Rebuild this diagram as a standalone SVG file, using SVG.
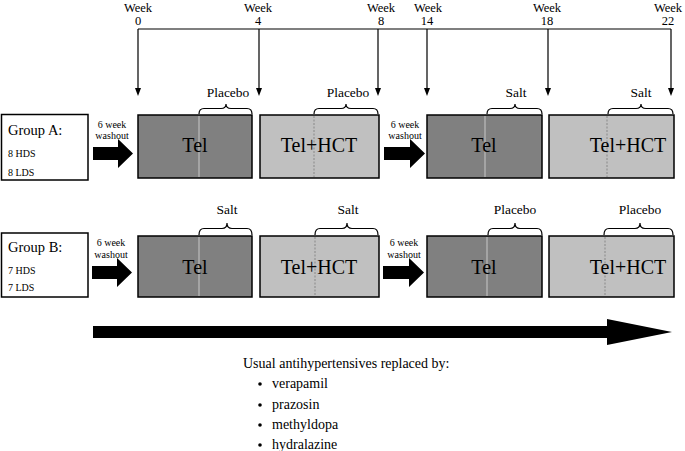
<svg xmlns="http://www.w3.org/2000/svg" width="685" height="451" viewBox="0 0 685 451">
<style>
text{font-family:"Liberation Serif","Times New Roman",serif;fill:#000}
.wk{font-size:12.5px;text-anchor:middle}
.lbl{font-size:13.5px;text-anchor:middle}
.drug{font-size:20px;text-anchor:middle}
.wo{font-size:10px;text-anchor:middle}
.grp{font-size:14.5px}
.sub{font-size:10px}
.note{font-size:14px}
.tel{fill:#808080;stroke:#000;stroke-width:1.5}
.hct{fill:#c0c0c0;stroke:#000;stroke-width:1.5}
.gbox{fill:#fff;stroke:#000;stroke-width:1.5}
.lt{stroke:#c8c8c8;stroke-width:1}
.dash{stroke:#888;stroke-width:1;stroke-dasharray:2,1.5}
.brace{fill:none;stroke:#000;stroke-width:1.2}
.ln{stroke:#000;stroke-width:1.2;fill:none}
.blk{fill:#000}
</style>

<g id="timeline">
<text class="wk" x="138" y="12">Week</text><text class="wk" x="138" y="25">0</text>
<text class="wk" x="258" y="12">Week</text><text class="wk" x="258" y="25">4</text>
<text class="wk" x="381" y="12">Week</text><text class="wk" x="381" y="25">8</text>
<text class="wk" x="428" y="12">Week</text><text class="wk" x="427" y="25">14</text>
<text class="wk" x="547" y="12">Week</text><text class="wk" x="547" y="25">18</text>
<text class="wk" x="668" y="12">Week</text><text class="wk" x="668" y="25">22</text>
</g>

<g id="connectors">
<path class="ln" d="M138,29 H671"/>
<path class="ln" d="M138,29 V89 M259,29 V89 M378,29 V89 M427,29 V89 M548,29 V89 M671,29 V89"/>
<polygon class="blk" points="135,88 141,88 138,96"/>
<polygon class="blk" points="256,88 262,88 259,96"/>
<polygon class="blk" points="375,88 381,88 378,96"/>
<polygon class="blk" points="424,88 430,88 427,96"/>
<polygon class="blk" points="545,88 551,88 548,96"/>
<polygon class="blk" points="668,88 674,88 671,96"/>
<polygon class="blk" points="93,147 118,147 118,139 133,153.5 118,168 118,160 93,160"/>
<polygon class="blk" points="384,147 410,147 410,139 425,153.5 410,168 410,160 384,160"/>
<polygon class="blk" points="92,266 117,266 117,258 132,272.5 117,287 117,279 92,279"/>
<polygon class="blk" points="383,266 409,266 409,258 424,272.5 409,287 409,279 383,279"/>
<polygon class="blk" points="93,326 607,326 607,319 672,332 607,345 607,338 93,338"/>
</g>

<g id="groupA">
<rect class="gbox" x="1.5" y="114.5" width="86.5" height="65.5"/>
<text class="grp" x="8" y="135">Group A:</text>
<text class="sub" x="8" y="157">8 HDS</text>
<text class="sub" x="8" y="176">8 LDS</text>
</g>
<g id="washoutA1"><text class="wo" x="112" y="128">6 week</text><text class="wo" x="112" y="139">washout</text></g>
<g id="A1">
<rect class="tel" x="138" y="115" width="114" height="63"/>
<line class="lt" x1="199" y1="116" x2="199" y2="177"/>
<text class="drug" x="195" y="152">Tel</text>
<path class="brace" d="M199,114 Q199,108.5 204,108.5 H221 Q226,108.5 226,104 Q226,108.5 231,108.5 H247 Q252,108.5 252,114"/>
<text class="lbl" x="228" y="97">Placebo</text>
</g>
<g id="A2">
<rect class="hct" x="260" y="115" width="119" height="63"/>
<line class="dash" x1="314" y1="116" x2="314" y2="177"/>
<text class="drug" x="319" y="152">Tel+HCT</text>
<path class="brace" d="M314,114 Q314,108.5 319,108.5 H341 Q346,108.5 346,104 Q346,108.5 351,108.5 H373 Q378,108.5 378,114"/>
<text class="lbl" x="348" y="97">Placebo</text>
</g>
<g id="washoutA2"><text class="wo" x="405" y="128">6 week</text><text class="wo" x="405" y="139">washout</text></g>
<g id="A3">
<rect class="tel" x="427" y="115" width="115" height="63"/>
<line class="lt" x1="485" y1="116" x2="485" y2="177"/>
<text class="drug" x="484" y="152">Tel</text>
<path class="brace" d="M487,114 Q487,108.5 492,108.5 H510 Q515,108.5 515,104 Q515,108.5 520,108.5 H537 Q542,108.5 542,114"/>
<text class="lbl" x="516" y="97">Salt</text>
</g>
<g id="A4">
<rect class="hct" x="549" y="115" width="125" height="63"/>
<line class="dash" x1="607" y1="116" x2="607" y2="177"/>
<text class="drug" x="628" y="152">Tel+HCT</text>
<path class="brace" d="M608,114 Q608,108.5 613,108.5 H636 Q641,108.5 641,104 Q641,108.5 646,108.5 H668 Q673,108.5 673,114"/>
<text class="lbl" x="641" y="97">Salt</text>
</g>

<g id="groupB">
<rect class="gbox" x="1.5" y="233" width="86.5" height="64"/>
<text class="grp" x="8" y="252">Group B:</text>
<text class="sub" x="8" y="274">7 HDS</text>
<text class="sub" x="8" y="291">7 LDS</text>
</g>
<g id="washoutB1"><text class="wo" x="111" y="246">6 week</text><text class="wo" x="111" y="258">washout</text></g>
<g id="B1">
<rect class="tel" x="138" y="236" width="114" height="61"/>
<line class="lt" x1="199" y1="237" x2="199" y2="296"/>
<text class="drug" x="195" y="274">Tel</text>
<path class="brace" d="M199,235 Q199,228.5 204,228.5 H222 Q227,228.5 227,223 Q227,228.5 232,228.5 H247 Q252,228.5 252,235"/>
<text class="lbl" x="227" y="214">Salt</text>
</g>
<g id="B2">
<rect class="hct" x="260" y="236" width="119" height="61"/>
<line class="dash" x1="315" y1="237" x2="315" y2="296"/>
<text class="drug" x="319" y="274">Tel+HCT</text>
<path class="brace" d="M315,235 Q315,228.5 320,228.5 H342 Q347,228.5 347,223 Q347,228.5 352,228.5 H373 Q378,228.5 378,235"/>
<text class="lbl" x="348" y="214">Salt</text>
</g>
<g id="washoutB2"><text class="wo" x="404" y="246">6 week</text><text class="wo" x="404" y="258">washout</text></g>
<g id="B3">
<rect class="tel" x="427" y="236" width="115" height="61"/>
<line class="lt" x1="487" y1="237" x2="487" y2="296"/>
<text class="drug" x="484" y="274">Tel</text>
<path class="brace" d="M488,235 Q488,228.5 493,228.5 H510 Q515,228.5 515,223 Q515,228.5 520,228.5 H537 Q542,228.5 542,235"/>
<text class="lbl" x="515" y="214">Placebo</text>
</g>
<g id="B4">
<rect class="hct" x="549" y="236" width="125" height="61"/>
<line class="dash" x1="605" y1="237" x2="605" y2="296"/>
<text class="drug" x="628" y="274">Tel+HCT</text>
<path class="brace" d="M604,235 Q604,228.5 609,228.5 H635 Q640,228.5 640,223 Q640,228.5 645,228.5 H668 Q673,228.5 673,235"/>
<text class="lbl" x="640" y="214">Placebo</text>
</g>

<g id="note">
<text class="note" x="243" y="368">Usual antihypertensives replaced by:</text>
<circle cx="260" cy="384" r="1.8"/>
<circle cx="260" cy="405" r="1.8"/>
<circle cx="260" cy="425" r="1.8"/>
<circle cx="260" cy="445" r="1.8"/>
<text class="note" x="272" y="388">verapamil</text>
<text class="note" x="272" y="409">prazosin</text>
<text class="note" x="272" y="429">methyldopa</text>
<text class="note" x="272" y="449">hydralazine</text>
</g>
</svg>
